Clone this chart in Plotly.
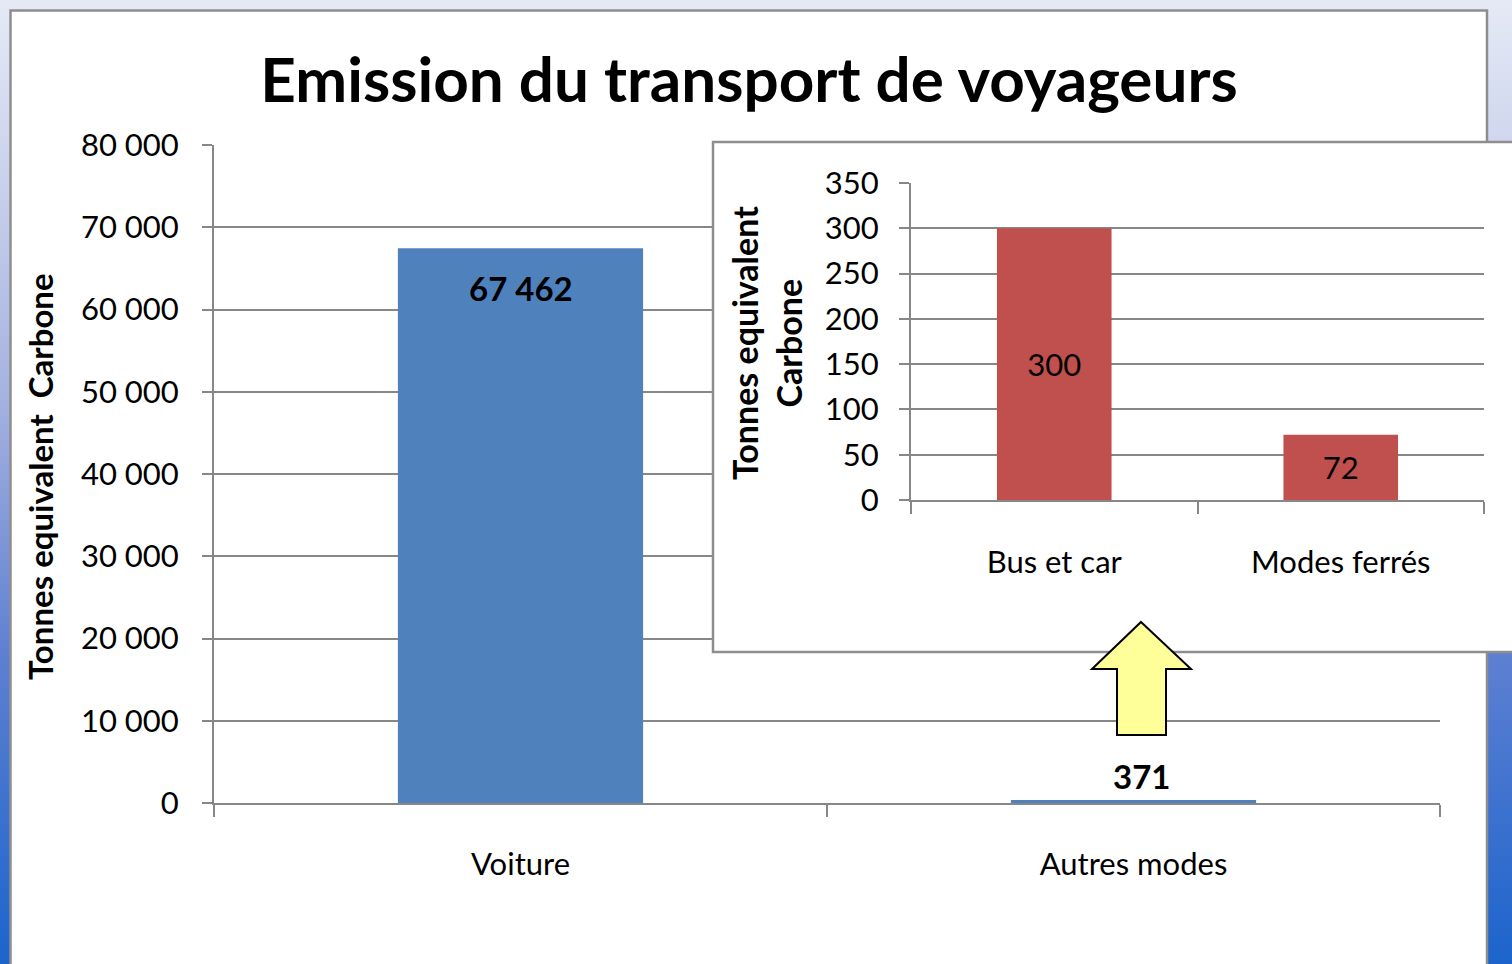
import plotly.graph_objects as go

# ---------------- data ----------------
main_categories = ["Voiture", "Autres modes"]
main_values = [67462, 371]
main_value_labels = ["67 462", "371"]
main_y_tickvals = [0, 10000, 20000, 30000, 40000, 50000, 60000, 70000, 80000]
main_y_ticktext = ["0", "10 000", "20 000", "30 000", "40 000", "50 000", "60 000", "70 000", "80 000"]

inset_categories = ["Bus et car", "Modes ferrés"]
inset_values = [300, 72]
inset_value_labels = ["300", "72"]
inset_y_tickvals = [0, 50, 100, 150, 200, 250, 300, 350]

title_text = "Emission du transport de voyageurs"
y_title_main = "Tonnes equivalent\u00a0 Carbone"
y_title_inset = "Tonnes equivalent<br>Carbone"

# ---------------- style ----------------
W, H = 1512, 964
FONT = "Lato"
GRID = "#878787"
BLUE = "#4F81BD"
RED = "#C0504D"
BORDER = "#8E8E8E"


def px(x):
    return x / W


def py(y):
    return 1 - y / H


fig = go.Figure()

# main bars
fig.add_trace(go.Bar(
    x=main_categories, y=main_values, xaxis="x", yaxis="y",
    marker=dict(color=BLUE, line=dict(width=0)),
    hoverinfo="skip", showlegend=False,
))

# dummy subplot in pixel units for the inset frame and arrow
fig.add_trace(go.Scatter(
    x=[0], y=[0], xaxis="x2", yaxis="y2", mode="markers",
    marker=dict(opacity=0), hoverinfo="skip", showlegend=False,
))

# inset bars
fig.add_trace(go.Bar(
    x=inset_categories, y=inset_values, xaxis="x3", yaxis="y3",
    marker=dict(color=RED, line=dict(width=0)),
    text=inset_value_labels, textposition="inside",
    insidetextanchor="middle", constraintext="none", textangle=0,
    insidetextfont=dict(family=FONT, size=31, color="black"),
    hoverinfo="skip", showlegend=False,
))

# background gradient (slide) + white card
stops = [(0, (230, 234, 246)), (400, (165, 178, 224)), (650, (95, 128, 210)), (964, (28, 100, 204))]


def grad_color(y):
    for (y0, c0), (y1, c1) in zip(stops[:-1], stops[1:]):
        if y0 <= y <= y1:
            t = (y - y0) / (y1 - y0)
            return "rgb(%d,%d,%d)" % tuple(round(a + (b - a) * t) for a, b in zip(c0, c1))
    return "rgb(%d,%d,%d)" % stops[-1][1]


shapes = []
band = 8
for y in range(0, H, band):
    shapes.append(dict(type="rect", xref="paper", yref="paper",
                       x0=0, x1=1, y0=py(y + band + 0.5), y1=py(y),
                       fillcolor=grad_color(y + band / 2), line=dict(width=0), layer="below"))
shapes.append(dict(type="rect", xref="paper", yref="paper",
                   x0=px(10.5), x1=px(1487), y0=py(H + 20), y1=py(10.5),
                   fillcolor="white", line=dict(color=BORDER, width=2.5), layer="below"))

# inset frame (in pixel-unit dummy axes, drawn above main subplot)
shapes.append(dict(type="rect", xref="x2", yref="y2",
                   x0=713, x1=1540, y0=652, y1=142,
                   fillcolor="white", line=dict(color=BORDER, width=2.5), layer="below"))
# yellow arrow
shapes.append(dict(type="path", xref="x2", yref="y2",
                   path="M 1141 622 L 1191 669 L 1166 669 L 1166 735 L 1117 735 L 1117 669 L 1092 669 Z",
                   fillcolor="#FFFF99", line=dict(color="black", width=2), layer="below"))

axis_common = dict(showline=True, linecolor=GRID, linewidth=2, ticks="outside",
                   tickcolor=GRID, tickwidth=2, zeroline=False, automargin=False,
                   tickfont=dict(family=FONT, size=31, color="black"))

# value labels of the main chart (inside end for the tall bar, above for the tiny one)
label_font = dict(family=FONT, size=33, color="black", weight="bold")
annotations = []
for cat, val, lbl in zip(main_categories, main_values, main_value_labels):
    inside = val > 5000
    annotations.append(dict(
        text=lbl, xref="x", yref="y", x=cat, y=val, showarrow=False,
        xanchor="center", yanchor="top" if inside else "bottom",
        yshift=-18 if inside else 2, xshift=0 if inside else 8, font=label_font,
    ))

annotations += [
    dict(text=y_title_main, xref="paper", yref="paper", x=px(40), y=py(477),
         xanchor="center", yanchor="middle", textangle=-90, showarrow=False,
         font=dict(family=FONT, size=33, color="black", weight="bold")),
    dict(text=y_title_inset, xref="paper", yref="paper", x=px(766), y=py(343),
         xanchor="center", yanchor="middle", textangle=-90, showarrow=False,
         font=dict(family=FONT, size=34, color="black", weight="bold")),
]

fig.update_layout(
    width=W, height=H,
    margin=dict(l=0, r=0, t=0, b=0, pad=0, autoexpand=False),
    paper_bgcolor="white", plot_bgcolor="rgba(0,0,0,0)",
    bargap=0.6,
    shapes=shapes,
    title=dict(text=title_text, x=px(749), y=py(80), xanchor="center", yanchor="middle",
               xref="paper", yref="paper", automargin=False,
               font=dict(family=FONT, size=62, color="black", weight="bold")),
    xaxis=dict(domain=[px(214), px(1440)], anchor="y", type="category",
               range=[-0.5, 1.5], tickson="boundaries", ticklen=12,
               showgrid=False, ticklabelstandoff=33, **axis_common),
    yaxis=dict(domain=[py(803), py(145)], anchor="x", range=[0, 80000],
               tickvals=main_y_tickvals, ticktext=main_y_ticktext, ticklen=10,
               showgrid=True, gridcolor=GRID, gridwidth=2, ticklabelstandoff=17,
               **axis_common),
    xaxis2=dict(domain=[0, 1], anchor="y2", range=[0, W], visible=False,
                fixedrange=True, automargin=False),
    yaxis2=dict(domain=[0, 1], anchor="x2", range=[H, 0], visible=False,
                fixedrange=True, automargin=False),
    xaxis3=dict(domain=[px(911), px(1484)], anchor="y3", type="category",
                range=[-0.5, 1.5], tickson="boundaries", ticklen=12,
                showgrid=False, ticklabelstandoff=34, **axis_common),
    yaxis3=dict(domain=[py(500), py(183)], anchor="x3", range=[0, 350],
                tickvals=inset_y_tickvals, ticklen=10,
                showgrid=True, gridcolor=GRID, gridwidth=2, ticklabelstandoff=14,
                **axis_common),
    annotations=annotations,
)

fig.write_html("out.html", config={"staticPlot": True},
               post_script="document.body.style.margin='0';document.body.style.overflow='hidden';")
